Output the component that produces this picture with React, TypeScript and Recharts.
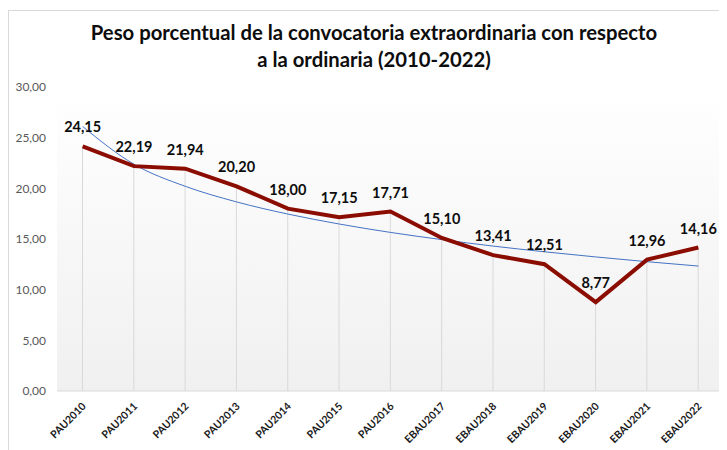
import React from 'react';
import { ComposedChart, Line, Bar, XAxis, YAxis, LabelList, ReferenceArea } from 'recharts';

const categories = [
  'PAU2010', 'PAU2011', 'PAU2012', 'PAU2013', 'PAU2014', 'PAU2015', 'PAU2016',
  'EBAU2017', 'EBAU2018', 'EBAU2019', 'EBAU2020', 'EBAU2021', 'EBAU2022',
];
const peso = [24.15, 22.19, 21.94, 20.2, 18.0, 17.15, 17.71, 15.1, 13.41, 12.51, 8.77, 12.96, 14.16];
// tendencia (curva azul)
const tendencia = [26.1, 22.38, 20.2, 18.66, 17.46, 16.48, 15.65, 14.94, 14.3, 13.74, 13.23, 12.76, 12.33];
const yTicks = [0, 5, 10, 15, 20, 25, 30];

const data = categories.map((c, i) => ({ name: c, peso: peso[i], tendencia: tendencia[i] }));

const fmt = (v: number) => v.toFixed(2).replace('.', ',');

const XTick = (props: any) => {
  const { x, y, payload } = props;
  return (
    <g transform={`translate(${x + 4},${y + 8})`}>
      <text
        x={0}
        y={0}
        textAnchor="end"
        transform="rotate(-45)"
        fontFamily="Lato, sans-serif"
        fontWeight={700}
        fontSize={10.5}
        fill="#1a1a1a"
      >
        {payload.value}
      </text>
    </g>
  );
};

export default function App() {
  return (
    <div
      style={{
        position: 'relative',
        width: 719,
        height: 442,
        borderTop: '1px solid #d9d9d9',
        borderLeft: '1px solid #d9d9d9',
        boxSizing: 'border-box',
        marginTop: 2,
      }}
    >
      <div
        style={{
          position: 'absolute',
          left: 0,
          top: 8,
          width: 730,
          textAlign: 'center',
          fontFamily: 'Lato, sans-serif',
          fontWeight: 700,
          fontSize: 20.3,
          lineHeight: '27px',
          color: '#0d0d0d',
        }}
      >
        Peso porcentual de la convocatoria extraordinaria con respecto
        <br />
        a la ordinaria (2010-2022)
      </div>
      <ComposedChart
        width={718}
        height={441}
        data={data}
        margin={{ top: 76, right: 3, left: 0, bottom: 7 }}
      >
        <defs>
          <linearGradient id="plotBg" x1="0" y1="0" x2="0" y2="1">
            <stop offset="0%" stopColor="#ffffff" />
            <stop offset="100%" stopColor="#f0f0f0" />
          </linearGradient>
        </defs>
        <ReferenceArea y1={0} y2={30} fill="url(#plotBg)" fillOpacity={1} stroke="none" ifOverflow="extendDomain" />
        <XAxis
          dataKey="name"
          interval={0}
          height={54}
          tickLine={false}
          axisLine={{ stroke: '#d9d9d9' }}
          tick={<XTick />}
        />
        <YAxis
          domain={[0, 30]}
          ticks={yTicks}
          width={48}
          axisLine={false}
          tickLine={false}
          tickFormatter={fmt}
          tick={{ fontFamily: 'Lato, sans-serif', fontSize: 12, fill: '#595959', dx: -3 }}
        />
        <Bar dataKey="peso" barSize={1} fill="#d9d9d9" isAnimationActive={false} />
        <Line
          type="monotone"
          dataKey="tendencia"
          stroke="#4472c4"
          strokeWidth={1}
          dot={false}
          isAnimationActive={false}
        />
        <Line
          type="linear"
          dataKey="peso"
          stroke="#8b0c00"
          strokeWidth={4}
          dot={false}
          isAnimationActive={false}
        >
          <LabelList
            dataKey="peso"
            position="top"
            offset={14}
            formatter={(v: any) => fmt(Number(v))}
            style={{ fontFamily: 'Lato, sans-serif', fontWeight: 700, fontSize: 14.5, fill: '#0d0d0d' }}
          />
        </Line>
      </ComposedChart>
    </div>
  );
}
